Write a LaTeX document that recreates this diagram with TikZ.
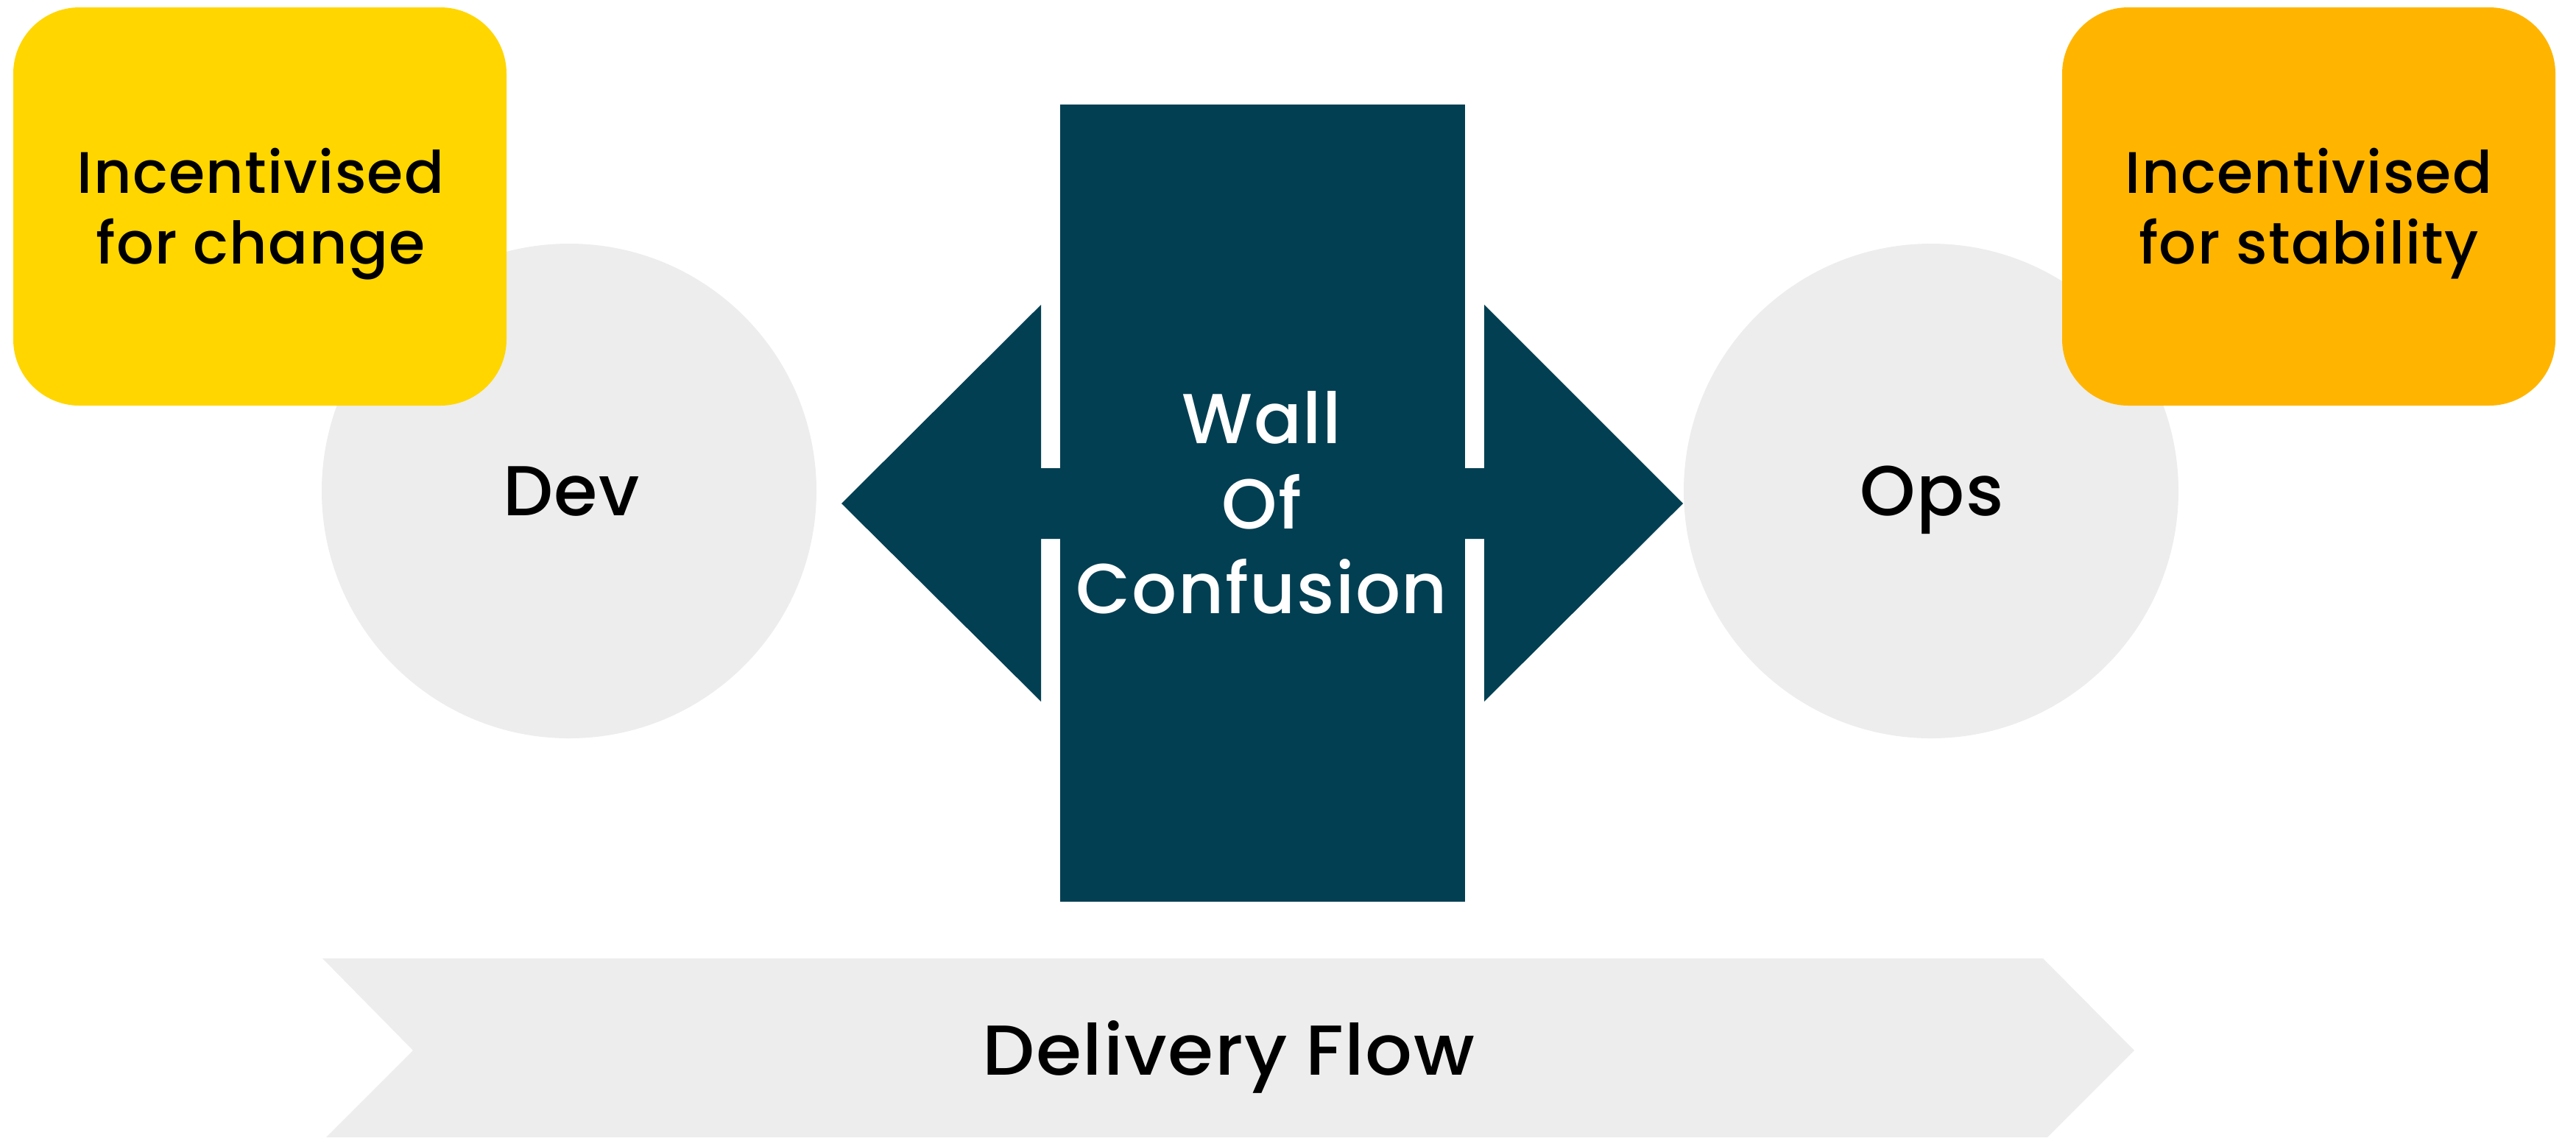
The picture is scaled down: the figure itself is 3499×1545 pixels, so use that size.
\documentclass[tikz,border=0pt]{standalone}
\usepackage{fontspec}
\newfontfamily\pop{Poppins Medium}[LetterSpace=1.6]
\definecolor{wallc}{RGB}{2,63,82}
\definecolor{chgc}{RGB}{255,214,0}
\definecolor{stabc}{RGB}{255,181,0}
\definecolor{lightg}{RGB}{237,237,237}
\tikzset{
  bigtxt/.style={font=\pop\fontsize{24}{29}\selectfont, anchor=base, inner sep=0pt, text=black},
  boxtxt/.style={font=\pop\fontsize{19.9}{24}\selectfont, anchor=base, inner sep=0pt, text=black},
  team/.style={circle, fill=lightg, minimum size=168pt, inner sep=0pt},
  incbox/.style={rectangle, rounded corners=22.5pt, minimum width=167.5pt, minimum height=135.25pt, inner sep=0pt},
}
\begin{document}
\begin{tikzpicture}[x=0.25pt,y=-0.25pt]
\useasboundingbox (0,0) rectangle (3499,1545);
% team circles
\node (devc) [team] at (773,667) {};
\node (opsc) [team] at (2623,667) {};
% incentive boxes
\node (chgbox) [incbox, fill=chgc] at (353,280.5) {};
\node (stabbox) [incbox, fill=stabc] at (3136,280.5) {};
% delivery flow chevron
\fill[lightg] (438,1302) -- (2775,1302) -- (2899,1427) -- (2781,1545) -- (443,1545) -- (561,1427) -- cycle;
% arrows
\fill[wallc] (1143,684) -- (1414,414) -- (1414,636) -- (1500,636) -- (1500,732) -- (1414,732) -- (1414,953) -- cycle;
\fill[wallc] (2286,684) -- (2016,414) -- (2016,636) -- (1930,636) -- (1930,732) -- (2016,732) -- (2016,953) -- cycle;
% wall
\node (wall) [rectangle, fill=wallc, minimum width=137.5pt, minimum height=270.75pt, inner sep=0pt] at (1715,683.5) {};
% texts
\node (t1) [boxtxt] at (354,262.5) {Incentivised};
\node (t2) [boxtxt] at (354,358) {for change};
\node (t3) [boxtxt] at (3136,262.5) {Incentivised};
\node (t4) [boxtxt] at (3136,358) {for stability};
\node (tdev) [bigtxt] at (776,700) {Dev};
\node (tops) [bigtxt] at (2624,700) {Ops};
\node (w1) [bigtxt, text=white] at (1714,602) {Wall};
\node (w2) [bigtxt, text=white] at (1714,718) {Of};
\node (w3) [bigtxt, text=white] at (1714,833) {Confusion};
\node (tflow) [bigtxt] at (1669,1460) {\scalebox{1.045}[1]{Delivery\hspace{6pt}Flow}};
\end{tikzpicture}
\end{document}
